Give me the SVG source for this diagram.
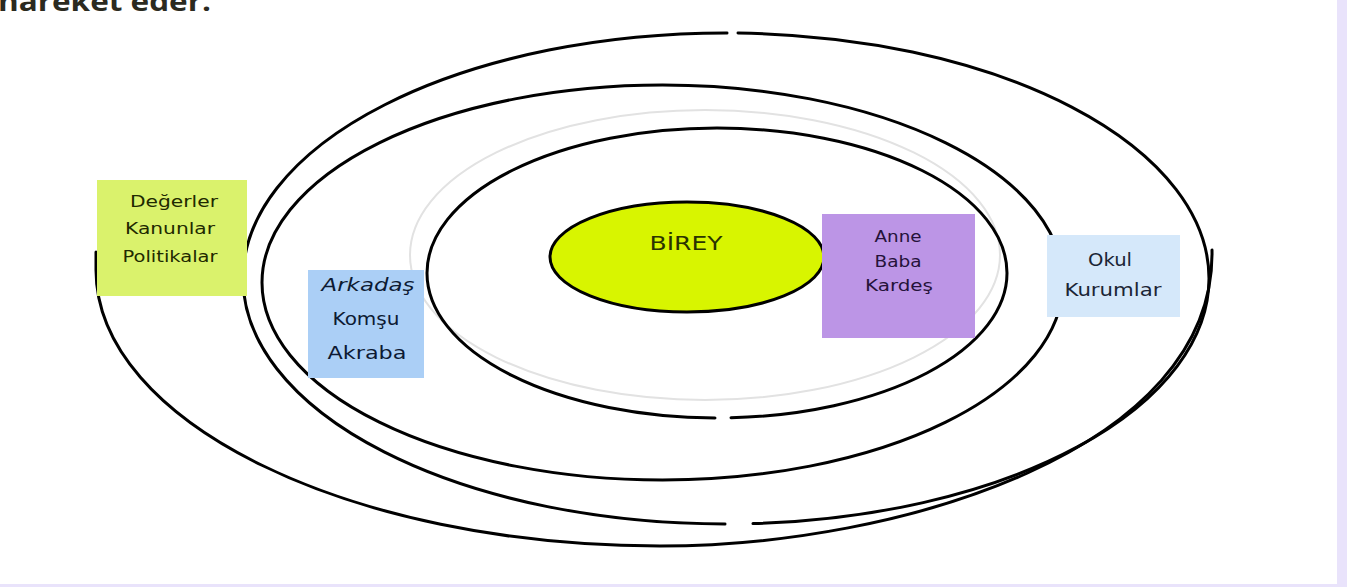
<svg xmlns="http://www.w3.org/2000/svg" width="1347" height="587" viewBox="0 0 1347 587">
<style>
.ring{fill:none;stroke:#000;stroke-width:3;stroke-linecap:round}
.gray{fill:none;stroke:#e2e2e2;stroke-width:2}
.lbl{font-family:"DejaVu Sans","Liberation Sans",sans-serif;text-anchor:middle}
</style>
<rect x="0" y="0" width="1347" height="587" fill="#ffffff"/>
<rect x="1337" y="0" width="10" height="587" fill="#e9e3fb"/>
<rect x="0" y="584" width="1337" height="3" fill="#e9e3fb"/>
<text x="-2" y="11" font-family="'Open Sans','Liberation Sans',sans-serif" font-weight="bold" font-size="26" fill="#2b2a20" textLength="213" lengthAdjust="spacingAndGlyphs">hareket eder.</text>
<g id="connectors">
<path class="ring" d="M727,33 A483,245.5 0 0 0 243,278.5 A483,245.5 0 0 0 725,524"/>
<path class="ring" d="M738,33.1 A483,245.5 0 0 1 1209,278.5 A483,245.5 0 0 1 753,523.6"/>
<path class="ring" d="M96,252 L96,270 C96,422 349,546 660,546 C900,546 1216,450 1212,250"/>
<ellipse class="ring" cx="662.5" cy="282.5" rx="400.5" ry="197.5"/>
<ellipse class="gray" cx="705" cy="255" rx="295" ry="145"/>
<path class="ring" d="M715,418 A290,145 0 0 1 427,273 A290,145 0 0 1 717,128 A290,145 0 0 1 1007,273 A290,145 0 0 1 731,417.8"/>
</g>
<g id="birey">
<ellipse cx="687" cy="257" rx="137" ry="55" fill="#d8f500" stroke="#000" stroke-width="3"/>
<text class="lbl" x="686" y="250" font-size="20" fill="#2a3300" textLength="73" lengthAdjust="spacingAndGlyphs">BİREY</text>
</g>
<g id="degerler">
<rect x="97" y="180" width="150" height="116" fill="#daf26c"/>
<text class="lbl" x="174" y="207" font-size="15" fill="#1f2a00" textLength="88" lengthAdjust="spacingAndGlyphs">Değerler</text>
<text class="lbl" x="170" y="234" font-size="15" fill="#1f2a00" textLength="90" lengthAdjust="spacingAndGlyphs">Kanunlar</text>
<text class="lbl" x="170" y="262" font-size="15" fill="#1f2a00" textLength="95" lengthAdjust="spacingAndGlyphs">Politikalar</text>
</g>
<g id="arkadas">
<rect x="308" y="270" width="116" height="108" fill="#abcff6"/>
<text class="lbl" x="368" y="291" font-size="17" font-style="italic" fill="#0d1a33" textLength="93" lengthAdjust="spacingAndGlyphs">Arkadaş</text>
<text class="lbl" x="366" y="325" font-size="17" fill="#0d1a33" textLength="67" lengthAdjust="spacingAndGlyphs">Komşu</text>
<text class="lbl" x="367" y="359" font-size="17" fill="#0d1a33" textLength="79" lengthAdjust="spacingAndGlyphs">Akraba</text>
</g>
<g id="anne">
<rect x="822" y="214" width="153" height="124" fill="#bc95e6"/>
<text class="lbl" x="898" y="242" font-size="16" fill="#25123a" textLength="47" lengthAdjust="spacingAndGlyphs">Anne</text>
<text class="lbl" x="898" y="267" font-size="16" fill="#25123a" textLength="47" lengthAdjust="spacingAndGlyphs">Baba</text>
<text class="lbl" x="899" y="291" font-size="16" fill="#25123a" textLength="68" lengthAdjust="spacingAndGlyphs">Kardeş</text>
</g>
<g id="okul">
<rect x="1047" y="235" width="133" height="82" fill="#d5e8fa"/>
<text class="lbl" x="1110" y="266" font-size="18" fill="#1b2535" textLength="44" lengthAdjust="spacingAndGlyphs">Okul</text>
<text class="lbl" x="1113" y="296" font-size="18" fill="#1b2535" textLength="97" lengthAdjust="spacingAndGlyphs">Kurumlar</text>
</g>
</svg>
